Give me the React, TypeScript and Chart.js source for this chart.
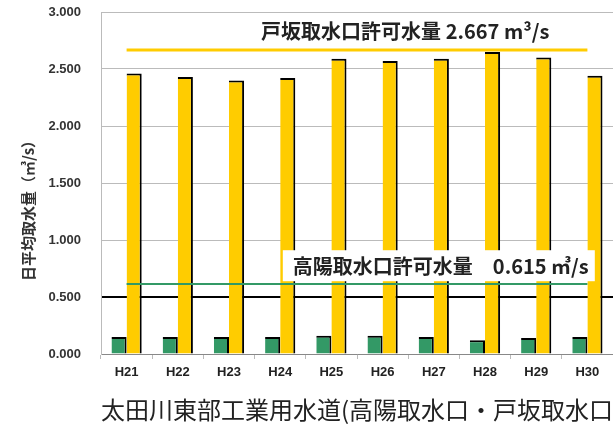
import React, { useEffect, useRef } from "react";
import { Chart, registerables } from "chart.js";

Chart.register(...registerables);

const categories = ["H21", "H22", "H23", "H24", "H25", "H26", "H27", "H28", "H29", "H30"];
const kouyouValues = [0.15, 0.15, 0.15, 0.15, 0.16, 0.16, 0.15, 0.12, 0.14, 0.15];
const hesakaValues = [2.46, 2.43, 2.40, 2.42, 2.59, 2.57, 2.59, 2.65, 2.60, 2.44];
const hesakaLimit = 2.667;
const kouyouLimit = 0.615;
const hesakaLabel = "戸坂取水口許可水量 2.667 m³/s";
const kouyouLabel = "高陽取水口許可水量　0.615 ㎥/s";
const yTitle = "日平均取水量（㎥/s）";
const xTitle = "太田川東部工業用水道(高陽取水口・戸坂取水口)";

const YELLOW = "#FFCC00";
const GREEN = "#339966";

const labelsPlugin = {
  id: "limitLabels",
  afterDatasetsDraw(chart: any) {
    const { ctx, scales } = chart;
    const x = scales.x;
    const y = scales.y;
    ctx.save();
    ctx.font = "bold 20px 'Noto Sans CJK JP', sans-serif";
    ctx.fillStyle = "#222";
    ctx.textAlign = "center";
    ctx.textBaseline = "middle";
    // 戸坂 label
    const cx1 = (x.getPixelForValue(5) + x.getPixelForValue(6)) / 2 - 3;
    ctx.fillText(hesakaLabel, cx1, y.getPixelForValue(2.83));
    // 高陽 label with white box
    const cx2 = x.getPixelForValue(6) + 5;
    const cy2 = y.getPixelForValue(0.77);
    ctx.fillStyle = "#fff";
    ctx.fillRect(cx2 - 156, cy2 - 16, 312, 31);
    ctx.fillStyle = "#222";
    ctx.fillText(kouyouLabel, cx2 + 2, cy2);
    ctx.restore();
  },
  afterDraw(chart: any) {
    const { ctx, scales } = chart;
    ctx.save();
    // x title
    ctx.font = "24px 'Noto Sans CJK JP', sans-serif";
    ctx.fillStyle = "#222";
    ctx.textAlign = "left";
    ctx.textBaseline = "middle";
    ctx.fillText(xTitle, scales.x.left, 410);
    // y title
    ctx.translate(28, 207);
    ctx.rotate(-Math.PI / 2);
    ctx.textAlign = "center";
    ctx.font = "bold 15px 'Noto Sans CJK JP', sans-serif";
    ctx.fillStyle = "#333";
    ctx.fillText(yTitle, 0, 0);
    ctx.restore();
  },
};

export default function App() {
  const ref = useRef<HTMLCanvasElement>(null);
  useEffect(() => {
    if (!ref.current) return;
    const border = { top: 2, right: 2, left: 0, bottom: 0 };
    const chart = new Chart(ref.current, {
      type: "bar",
      data: {
        labels: categories,
        datasets: [
          {
            type: "line",
            data: categories.map(() => hesakaLimit),
            borderColor: YELLOW,
            borderWidth: 3,
            pointRadius: 0,
            order: 0,
          } as any,
          {
            type: "line",
            data: categories.map(() => kouyouLimit),
            borderColor: GREEN,
            borderWidth: 2,
            pointRadius: 0,
            order: 0,
          } as any,
          {
            label: "高陽",
            data: kouyouValues,
            backgroundColor: GREEN,
            borderColor: "#000",
            borderWidth: border,
            borderSkipped: false,
            barPercentage: 1,
            categoryPercentage: 0.59,
            order: 1,
          },
          {
            label: "戸坂",
            data: hesakaValues,
            backgroundColor: YELLOW,
            borderColor: "#000",
            borderWidth: border,
            borderSkipped: false,
            barPercentage: 1,
            categoryPercentage: 0.59,
            order: 1,
          },
        ],
      },
      options: {
        animation: false,
        responsive: false,
        layout: { padding: { top: 12, right: 0, left: 0, bottom: 0 } },
        plugins: { legend: { display: false }, tooltip: { enabled: false } },
        scales: {
          x: {
            grid: {
              display: true,
              drawOnChartArea: false,
              drawTicks: true,
              tickLength: 5,
              color: "#bbb",
              offset: true,
            },
            border: { color: "#888", width: 1 },
            ticks: {
              color: "#222",
              font: { size: 13, weight: "bold", family: "'Liberation Sans', Arial, sans-serif" },
              padding: 6,
            },
            afterFit(scale: any) {
              scale.height = 72;
              scale.paddingLeft = 0;
              scale.paddingRight = 0;
            },
          },
          y: {
            min: 0,
            max: 3,
            ticks: {
              stepSize: 0.5,
              callback: (v: any) => Number(v).toFixed(3),
              color: "#333",
              font: { size: 13, weight: "bold", family: "'Liberation Sans', Arial, sans-serif" },
              padding: 20,
            },
            grid: {
              color: (c: any) => (c.tick && c.tick.value === 0.5 ? "#000" : "#bbb"),
              lineWidth: (c: any) => (c.tick && c.tick.value === 0.5 ? 2 : 1),
              drawTicks: false,
            },
            border: { color: "#bbb", width: 1 },
            afterFit(scale: any) {
              scale.width = 101;
              scale.paddingTop = 0;
              scale.paddingBottom = 0;
            },
          },
        },
      },
      plugins: [labelsPlugin],
    });
    return () => chart.destroy();
  }, []);
  return (
    <div style={{ position: "fixed", left: 0, top: 0, width: 613, height: 426, background: "#fff" }}>
      <canvas ref={ref} width={613} height={426} style={{ width: 613, height: 426 }} />
    </div>
  );
}
